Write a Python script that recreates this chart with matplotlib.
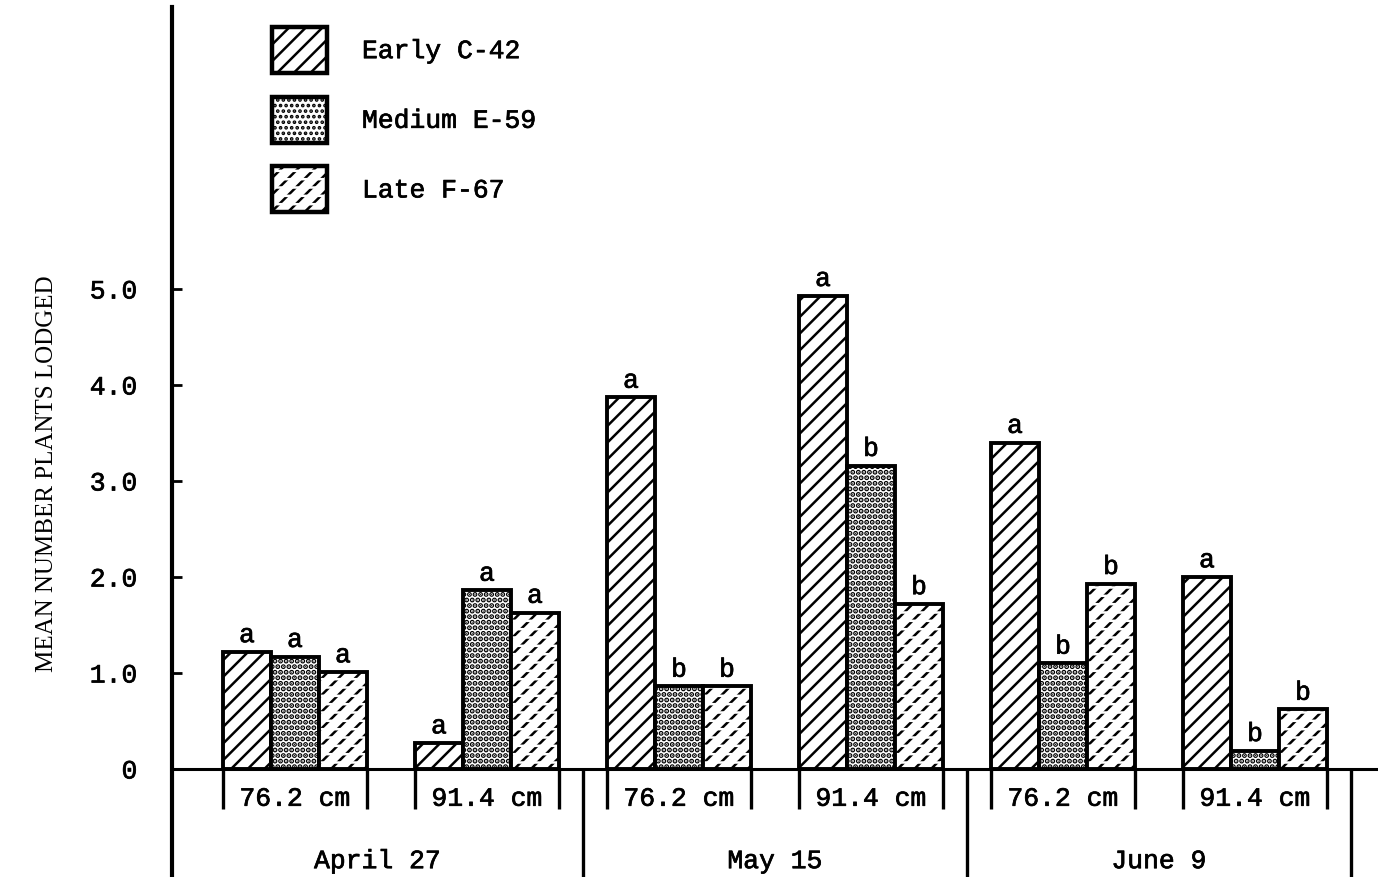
import numpy as np
import matplotlib
matplotlib.use("Agg")
import matplotlib.pyplot as plt
import matplotlib.patheffects as pe
from matplotlib.patches import Patch
from matplotlib.legend_handler import HandlerTuple

plt.rcParams['hatch.linewidth'] = 1.8

# lodging data: clusters are April 27 (76.2, 91.4), May 15 (76.2, 91.4), June 9 (76.2, 91.4)
dates = ['April 27', 'May 15', 'June 9']
spacings = ['76.2 cm', '91.4 cm']
varieties = ['Early C-42', 'Medium E-59', 'Late F-67']
early = [1.22, 0.27, 3.87, 4.93, 3.40, 2.00]
medium = [1.17, 1.86, 0.86, 3.16, 1.10, 0.19]
late = [1.01, 1.63, 0.86, 1.72, 1.93, 0.62]
early_sig = ['a', 'a', 'a', 'a', 'a', 'a']
medium_sig = ['a', 'a', 'b', 'b', 'b', 'b']
late_sig = ['a', 'a', 'b', 'b', 'b', 'b']
yticks = [0, 1, 2, 3, 4, 5]
ytick_labels = ['0', '1.0', '2.0', '3.0', '4.0', '5.0']

mono = 'Liberation Mono'
serif = 'Liberation Serif'
fs = 19
# typewriter look: regular mono with a thin stroke to darken it
ink = [pe.withStroke(linewidth=0.5, foreground='black')]
txt = dict(fontfamily=mono, fontsize=fs, path_effects=ink)

W, H = 1378, 878
fig = plt.figure(figsize=(W / 100, H / 100), dpi=100)
ax = fig.add_axes([0, 0, 1, 1])
ax.patch.set_visible(False)

# one bar = 48 px wide, one unit on y = 96 px
ax.set_xlim(-295 / 48, (W - 295) / 48)
ax.set_ylim(-(H - 770) / 96, 770 / 96)

centers = np.arange(6) * 4.0
axis_x = -2.56

# axes lines
ax.spines[['top', 'right']].set_visible(False)
ax.spines['left'].set_position(('data', axis_x))
ax.spines['left'].set_bounds(-1.3, 7.94)
ax.spines['left'].set_linewidth(3)
ax.spines['bottom'].set_position(('data', 0))
ax.spines['bottom'].set_bounds(axis_x, ax.get_xlim()[1])
ax.spines['bottom'].set_linewidth(2.2)
ax.set_xticks([])
ax.set_yticks(yticks, ytick_labels, fontfamily=mono, fontsize=fs)
for t in ax.get_yticklabels():
    t.set_path_effects(ink)
ax.tick_params(axis='y', direction='in', length=7, width=2, pad=25)


def dot_weight(patches):
    # heavier stipple where the installed matplotlib allows it per patch
    for p in patches:
        if hasattr(p, 'set_hatch_linewidth'):
            p.set_hatch_linewidth(2.6)


# bars
bar_kw = dict(width=1, linewidth=2.8, zorder=2)
ax.bar(centers - 1, early, facecolor='white', edgecolor='black', hatch='//', **bar_kw)
med = ax.bar(centers, medium, facecolor='white', edgecolor='black', hatch='...', **bar_kw)
dot_weight(med)
# late bars: diagonal lines broken into dashes by a white hatch on top
ax.bar(centers + 1, late, width=1, facecolor='white', edgecolor='black', linewidth=0, hatch='//', zorder=2)
ax.bar(centers + 1, late, width=1, facecolor='none', edgecolor='white', linewidth=0, hatch='--', zorder=3)
ax.bar(centers + 1, late, width=1, facecolor='none', edgecolor='black', linewidth=2.8, zorder=4)

# significance letters
for vals, sig, off in [(early, early_sig, -1), (medium, medium_sig, 0), (late, late_sig, 1)]:
    for c, v, s in zip(centers + off, vals, sig):
        ax.annotate(s, (c, v), xytext=(0, 7), textcoords='offset points',
                    ha='center', va='baseline', **txt)

# row spacing labels and brackets under the axis
for c, lab in zip(centers, spacings * 3):
    ax.text(c, -0.31, lab, ha='center', va='center', **txt)
ax.vlines(np.r_[centers - 1.5, centers + 1.5], -0.42, 0, color='black', lw=2.4)

bounds = [axis_x] + list(centers[1::2] + 2)
ax.vlines(bounds[1:], -1.3, 0, color='black', lw=2.4, clip_on=False)
for i, d in enumerate(dates):
    ax.text((bounds[i] + bounds[i + 1]) / 2, -0.96, d, ha='center', va='center', **txt)

fig.text(47 / W, 1 - 474 / H, 'MEAN NUMBER PLANTS LODGED', rotation=90,
         ha='center', va='center', fontfamily=serif, fontsize=18)

# legend
late_handle = (Patch(facecolor='white', edgecolor='black', linewidth=0, hatch='//'),
               Patch(facecolor='none', edgecolor='white', linewidth=0, hatch='--'),
               Patch(facecolor='none', edgecolor='black', linewidth=3.2))
med_handle = Patch(facecolor='white', edgecolor='black', linewidth=3.2, hatch='...')
dot_weight([med_handle])
handles = [Patch(facecolor='white', edgecolor='black', linewidth=3.2, hatch='//'),
           med_handle, late_handle]
leg = ax.legend(handles, varieties, loc='upper left', bbox_to_anchor=(272 / W, 1 - 28 / H),
                bbox_transform=fig.transFigure, frameon=False,
                prop={'family': mono, 'size': fs},
                handlelength=2.08, handleheight=2.3, handletextpad=1.33,
                labelspacing=0.9, borderpad=0, borderaxespad=0,
                handler_map={tuple: HandlerTuple(ndivide=1, pad=0)})
for t in leg.get_texts():
    t.set_path_effects(ink)

fig.savefig('out.png', dpi=100)
